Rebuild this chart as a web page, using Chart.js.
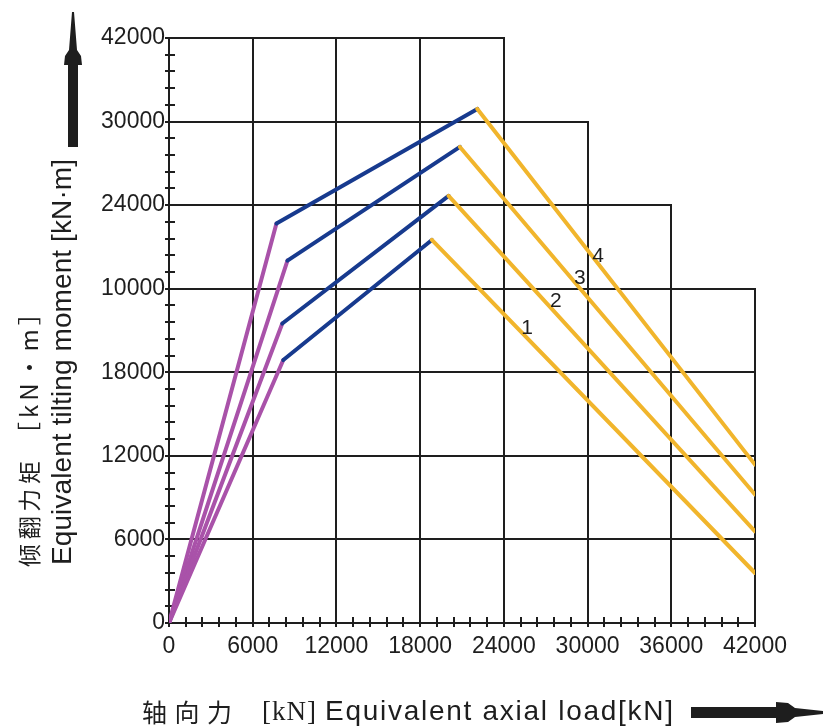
<!DOCTYPE html>
<html><head><meta charset="utf-8">
<script src="https://cdn.jsdelivr.net/npm/chart.js@4"></script>
<style>html,body{margin:0;padding:0;background:#fff}#wrap{width:825px;height:727px}</style>
</head><body><div id="wrap"><canvas id="c" width="825" height="727"></canvas></div>
<script>
// ---- data ----
const xTickLabels = ['0','6000','12000','18000','24000','30000','36000','42000'];
const yTickLabels = ['0','6000','12000','18000','10000','24000','30000','42000'];
const curveNames = ['1','2','3','4'];
const bendLoad   = [8190, 8120, 8490, 7700];
const bendMoment = [18880, 21500, 26020, 28680];
const peakLoad   = [18840, 20040, 20850, 22100];
const peakMoment = [27500, 30670, 34180, 36910];
const endLoad    = [42000, 42000, 42000, 42000];
const endMoment  = [3590, 6580, 9220, 11370];
const nameLoad   = [25670, 27730, 29450, 30760];
const nameMoment = [21300, 23220, 24900, 26460];
const gridReach  = [42000, 42000, 42000, 42000, 42000, 36000, 30000, 24000];

const PURPLE = '#a952a9', BLUE = '#173a8e', ORANGE = '#f1b52c', INK = '#1e1e1e';
const SEG = [PURPLE, BLUE, ORANGE];

function fitText(ctx, text, x, y, width) {
  ctx.letterSpacing = '0px';
  const w = ctx.measureText(text).width;
  const n = [...text].length;
  const ls = n > 1 ? (width - w) / (n - 1) : 0;
  ctx.letterSpacing = ls + 'px';
  ctx.fillText(text, x, y);
  ctx.letterSpacing = '0px';
}

const frame = {
  id: 'frame',
  beforeDatasetsDraw(chart) {
    const { ctx, scales: { x, y } } = chart;
    const X = v => Math.round(x.getPixelForValue(v));
    const Y = v => Math.round(y.getPixelForValue(v));
    ctx.save();
    ctx.strokeStyle = INK;
    ctx.lineWidth = 2;
    ctx.lineCap = 'square';
    gridReach.forEach((reach, k) => {
      const v = k * 6000;
      ctx.beginPath(); ctx.moveTo(X(v), Y(0)); ctx.lineTo(X(v), Y(reach)); ctx.stroke();
      ctx.beginPath(); ctx.moveTo(X(0), Y(v)); ctx.lineTo(X(reach), Y(v)); ctx.stroke();
    });
    ctx.lineCap = 'butt';
    for (let v = 0; v <= 42000; v += 1200) {
      ctx.beginPath(); ctx.moveTo(X(v), Y(0) - 6); ctx.lineTo(X(v), Y(0) + 4); ctx.stroke();
      ctx.beginPath(); ctx.moveTo(X(0) - 4, Y(v)); ctx.lineTo(X(0) + 6, Y(v)); ctx.stroke();
    }
    ctx.restore();
  },
  afterDatasetsDraw(chart) {
    const { ctx, scales: { x, y } } = chart;
    ctx.save();
    ctx.fillStyle = INK;
    ctx.font = '21px "Liberation Sans", Arial, sans-serif';
    ctx.textAlign = 'center';
    ctx.textBaseline = 'middle';
    curveNames.forEach((n, i) => {
      ctx.fillText(n, x.getPixelForValue(nameLoad[i]), y.getPixelForValue(nameMoment[i]) + 2);
    });
    ctx.restore();
  },
  afterDraw(chart) {
    const ctx = chart.ctx;
    ctx.save();
    ctx.fillStyle = INK;
    // y-axis title (rotated)
    ctx.save();
    ctx.translate(71, 565); ctx.rotate(-Math.PI / 2);
    ctx.font = '28px "Liberation Sans", Arial, sans-serif';
    ctx.textAlign = 'left'; ctx.textBaseline = 'alphabetic';
    fitText(ctx, 'Equivalent tilting moment [kN·m]', 0, 0, 406);
    ctx.restore();
    ctx.save();
    ctx.translate(29, 567); ctx.rotate(-Math.PI / 2);
    ctx.font = '23px "Noto Sans CJK SC", sans-serif';
    ctx.textAlign = 'left'; ctx.textBaseline = 'middle';
    fitText(ctx, '倾翻力矩', 0, 0, 106);
    ctx.restore();
    ctx.save();
    ctx.translate(29, 446); ctx.rotate(-Math.PI / 2);
    ctx.font = '24px "Noto Sans CJK SC", sans-serif';
    ctx.textAlign = 'left'; ctx.textBaseline = 'middle';
    ctx.letterSpacing = '4px';
    ctx.fillText('［kN・m］', 0, 0);
    ctx.letterSpacing = '0px';
    ctx.restore();
    // x-axis title
    ctx.font = '25px "Noto Sans CJK SC", sans-serif';
    ctx.textAlign = 'left'; ctx.textBaseline = 'middle';
    fitText(ctx, '轴向力', 142, 712, 90);
    ctx.textBaseline = 'alphabetic';
    ctx.font = '27px "Liberation Serif", serif';
    fitText(ctx, '[kN]', 262, 720, 54);
    ctx.font = '28px "Liberation Sans", Arial, sans-serif';
    fitText(ctx, 'Equivalent axial load[kN]', 325, 720, 348);
    // y arrow
    ctx.beginPath();
    ctx.rect(68, 60, 10, 87);
    ctx.fill();
    ctx.beginPath();
    ctx.moveTo(64, 65); ctx.lineTo(82, 65); ctx.lineTo(81, 56); ctx.lineTo(77, 50);
    ctx.lineTo(74, 12); ctx.lineTo(72, 12); ctx.lineTo(69, 50); ctx.lineTo(65, 56);
    ctx.closePath(); ctx.fill();
    // x arrow
    ctx.beginPath();
    ctx.rect(691, 707, 88, 11);
    ctx.fill();
    ctx.beginPath();
    ctx.moveTo(776, 702); ctx.lineTo(776, 723); ctx.lineTo(788, 722); ctx.lineTo(795, 717);
    ctx.lineTo(823, 714); ctx.lineTo(823, 711); ctx.lineTo(795, 708); ctx.lineTo(788, 703);
    ctx.closePath(); ctx.fill();
    ctx.restore();
  }
};

const tickFont = { family: '"Liberation Sans", Arial, sans-serif', size: 23 };

new Chart(document.getElementById('c'), {
  type: 'scatter',
  data: {
    datasets: curveNames.map((n, i) => ({
      label: n,
      data: [
        { x: 0, y: 0 },
        { x: bendLoad[i], y: bendMoment[i] },
        { x: peakLoad[i], y: peakMoment[i] },
        { x: endLoad[i], y: endMoment[i] }
      ],
      showLine: true,
      pointRadius: 0,
      pointHoverRadius: 0,
      borderWidth: 4,
      borderColor: ORANGE,
      backgroundColor: ORANGE,
      borderCapStyle: 'round',
      borderJoinStyle: 'round',
      tension: 0,
      fill: false,
      segment: { borderColor: c => SEG[c.p0DataIndex] }
    }))
  },
  options: {
    responsive: false,
    devicePixelRatio: 1,
    animation: false,
    layout: { padding: { left: 0, top: 38, right: 70, bottom: 0 } },
    plugins: { legend: { display: false }, tooltip: { enabled: false }, title: { display: false } },
    scales: {
      x: {
        type: 'linear', min: 0, max: 42000,
        grid: { display: false, drawTicks: false },
        border: { display: false },
        ticks: {
          stepSize: 6000, autoSkip: false, maxRotation: 0, minRotation: 0,
          color: INK, font: tickFont, padding: 10,
          callback: (v, i) => xTickLabels[i]
        },
        afterFit: s => { s.height = 104; }
      },
      y: {
        type: 'linear', min: 0, max: 42000,
        grid: { display: false, drawTicks: false },
        border: { display: false },
        ticks: {
          stepSize: 6000, autoSkip: false,
          color: INK, font: tickFont, padding: 4,
          callback: (v, i) => yTickLabels[i]
        },
        afterFit: s => { s.width = 169; }
      }
    }
  },
  plugins: [frame]
});
</script>
</body></html>
